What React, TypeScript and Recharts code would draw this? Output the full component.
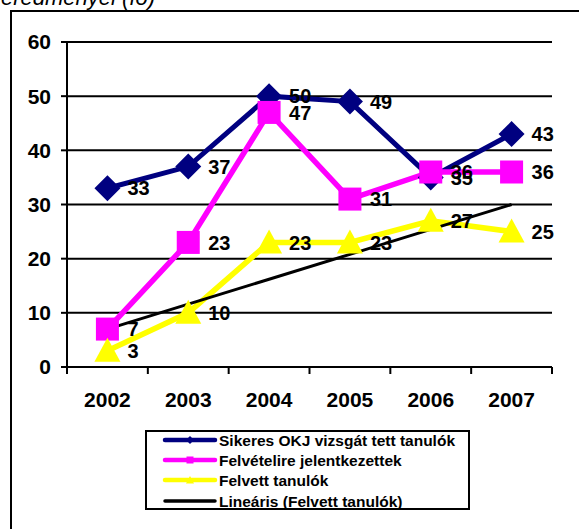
import React from 'react';
import { LineChart, Line, XAxis, YAxis, CartesianGrid, Legend } from 'recharts';

const years = ['2002', '2003', '2004', '2005', '2006', '2007'];
const sikeres = [33, 37, 50, 49, 35, 43];
const jelentkezett = [7, 23, 47, 31, 36, 36];
const felvett = [3, 10, 23, 23, 27, 25];
const linearis = [7, 11.6, 16.2, 20.8, 25.4, 30];
const yTicks = [0, 10, 20, 30, 40, 50, 60];
const seriesNames = [
  'Sikeres OKJ vizsgát tett tanulók',
  'Felvételire jelentkezettek',
  'Felvett tanulók',
  'Lineáris (Felvett tanulók)',
];
const titleText = 'eredményei (fő)';

const data = years.map((year, i) => ({
  pos: i + 1,
  year,
  sikeres: sikeres[i],
  jelentkezett: jelentkezett[i],
  felvett: felvett[i],
  linearis: linearis[i],
}));
const boundaryTicks = years.map((_, i) => i + 0.5).concat(years.length + 0.5);

const FONT = '"Liberation Sans", Arial, Helvetica, sans-serif';
const W = 579;
const H = 529;
const MARGIN = { top: 42, right: 27, bottom: 122, left: 7 };
const Y_AXIS_W = 60;
const X_AXIS_H = 40;
const PLOT_W = W - MARGIN.left - MARGIN.right - Y_AXIS_W;
const HALF_BAND = PLOT_W / years.length / 2;

const NAVY = '#000080';
const MAGENTA = '#FF00FF';
const YELLOW = '#FFFF00';
const BLACK = '#000000';

const diamondDot = (p: any) => {
  const { cx, cy, index } = p;
  if (cx == null || cy == null) return <g key={`d${index}`} />;
  const r = 13;
  return (
    <polygon
      key={`d${index}`}
      points={`${cx},${cy - r} ${cx + r},${cy} ${cx},${cy + r} ${cx - r},${cy}`}
      fill={NAVY}
    />
  );
};

const squareDot = (p: any) => {
  const { cx, cy, index } = p;
  if (cx == null || cy == null) return <g key={`s${index}`} />;
  const s = 23;
  return <rect key={`s${index}`} x={cx - s / 2} y={cy - s / 2} width={s} height={s} fill={MAGENTA} />;
};

const triangleDot = (p: any) => {
  const { cx, cy, index } = p;
  if (cx == null || cy == null) return <g key={`t${index}`} />;
  return (
    <polygon
      key={`t${index}`}
      points={`${cx},${cy - 13} ${cx + 13},${cy + 11} ${cx - 13},${cy + 11}`}
      fill={YELLOW}
    />
  );
};

const renderLabel = (p: any) => {
  const { x, y, value, index } = p;
  if (x == null || y == null) return null;
  return (
    <text
      key={`l${index}`}
      x={x + 20}
      y={y}
      dy="0.36em"
      textAnchor="start"
      fontFamily={FONT}
      fontSize={20}
      fontWeight="bold"
      fill="#000"
    >
      {value}
    </text>
  );
};

const XTick = (props: any) => {
  const { x, y, payload } = props;
  const idx = Math.round(payload.value - 0.5);
  if (idx < 0 || idx >= years.length) return <g />;
  return (
    <text
      x={x + HALF_BAND}
      y={y}
      dy="0.71em"
      textAnchor="middle"
      fontFamily={FONT}
      fontSize={21}
      fontWeight="bold"
      fill="#000"
    >
      {years[idx]}
    </text>
  );
};

const legendColors = [NAVY, MAGENTA, YELLOW, BLACK];
const legendRows = [10, 30, 50, 71];

const LegendBox = () => (
  <svg width={325} height={80} style={{ display: 'block', background: '#fff' }}>
    <rect x={1} y={1} width={323} height={78} fill="#fff" stroke="#000" strokeWidth={2} />
    {seriesNames.map((name, i) => {
      const cy = legendRows[i];
      const c = legendColors[i];
      const mx = 45;
      let marker: any = null;
      if (i === 0)
        marker = <polygon points={`${mx},${cy - 4} ${mx + 4},${cy} ${mx},${cy + 4} ${mx - 4},${cy}`} fill={c} />;
      if (i === 1) marker = <rect x={mx - 3.5} y={cy - 3.5} width={7} height={7} fill={c} />;
      if (i === 2) marker = <polygon points={`${mx},${cy - 4} ${mx + 4},${cy + 3.5} ${mx - 4},${cy + 3.5}`} fill={c} />;
      return (
        <g key={name}>
          <line x1={20} x2={70} y1={cy} y2={cy} stroke={c} strokeWidth={i === 3 ? 3.5 : 4.5} strokeLinecap="round" />
          {marker}
          <text x={74} y={cy + 6} fontFamily={FONT} fontSize={15.5} fontWeight="bold" fill="#000">
            {name}
          </text>
        </g>
      );
    })}
  </svg>
);

export default function App() {
  return (
    <div
      style={{
        position: 'absolute',
        left: 0,
        top: 0,
        width: W,
        height: H,
        overflow: 'hidden',
        background: '#fff',
      }}
    >
      <svg width={W} height={H} style={{ position: 'absolute', left: 0, top: 0 }}>
        <text x={1} y={5} fontFamily={FONT} fontStyle="italic" fontSize={22} fill="#000">
          {titleText}
        </text>
        <rect x={11} y={11} width={W + 20} height={H + 20} fill="none" stroke="#000" strokeWidth={2} />
      </svg>
      <div style={{ position: 'absolute', left: 0, top: 0 }}>
        <LineChart width={W} height={H} data={data} margin={MARGIN}>
          <CartesianGrid vertical={false} stroke="#000" strokeWidth={2} />
          <XAxis
            dataKey="pos"
            type="number"
            domain={[0.5, years.length + 0.5]}
            ticks={boundaryTicks}
            interval={0}
            height={X_AXIS_H}
            tickSize={7}
            tickMargin={18}
            axisLine={{ stroke: '#000', strokeWidth: 2 }}
            tickLine={{ stroke: '#000', strokeWidth: 2 }}
            tick={<XTick />}
          />
          <YAxis
            domain={[0, 60]}
            ticks={yTicks}
            interval={0}
            width={Y_AXIS_W}
            tickSize={6}
            tickMargin={10}
            axisLine={{ stroke: '#000', strokeWidth: 2 }}
            tickLine={{ stroke: '#000', strokeWidth: 2 }}
            tick={{ fill: '#000', fontSize: 21, fontWeight: 'bold', fontFamily: FONT }}
          />
          <Legend
            layout="vertical"
            align="center"
            verticalAlign="middle"
            wrapperStyle={{ left: 145, top: 430, width: 325, height: 80 }}
            content={() => <LegendBox />}
          />
          <Line
            dataKey="sikeres"
            name={seriesNames[0]}
            stroke={NAVY}
            strokeWidth={5}
            dot={diamondDot}
            activeDot={false}
            label={renderLabel}
            isAnimationActive={false}
          />
          <Line
            dataKey="jelentkezett"
            name={seriesNames[1]}
            stroke={MAGENTA}
            strokeWidth={5.5}
            dot={squareDot}
            activeDot={false}
            label={renderLabel}
            isAnimationActive={false}
          />
          <Line
            dataKey="felvett"
            name={seriesNames[2]}
            stroke={YELLOW}
            strokeWidth={5.5}
            dot={triangleDot}
            activeDot={false}
            label={renderLabel}
            isAnimationActive={false}
          />
          <Line
            dataKey="linearis"
            name={seriesNames[3]}
            stroke={BLACK}
            strokeWidth={3}
            dot={false}
            activeDot={false}
            isAnimationActive={false}
          />
        </LineChart>
      </div>
    </div>
  );
}
